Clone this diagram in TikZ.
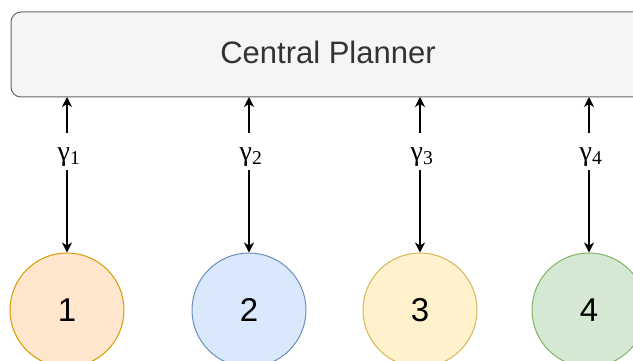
\documentclass[tikz,border=0pt]{standalone}
\usepackage{fontspec}
\setmainfont{Liberation Sans}
\newfontfamily\gfont{Liberation Serif}
\usetikzlibrary{arrows.meta}
\definecolor{boxfill}{HTML}{F5F5F5}
\definecolor{boxline}{HTML}{666666}
\definecolor{boxtext}{HTML}{333333}
\definecolor{f1}{HTML}{FFE6CC}\definecolor{s1}{HTML}{D79B00}
\definecolor{f2}{HTML}{DAE8FC}\definecolor{s2}{HTML}{6C8EBF}
\definecolor{f3}{HTML}{FFF2CC}\definecolor{s3}{HTML}{D6B656}
\definecolor{f4}{HTML}{D5E8D4}\definecolor{s4}{HTML}{82B366}
\tikzset{
  agent/.style={circle, minimum size=114pt, inner sep=0pt, line width=1pt, font=\fontsize{33}{33}\selectfont},
  glabel/.style={inner sep=0pt, font=\gfont\fontsize{28}{28}\selectfont},
  link/.style={line width=1.3pt, -{Stealth[length=10pt,width=10pt,inset=3pt]}},
}
\begin{document}
\begin{tikzpicture}[x=1pt,y=-1pt]
\useasboundingbox (0,0) rectangle (633,361);
\clip (0,0) rectangle (633,361);
\draw[boxline, fill=boxfill, line width=1pt, rounded corners=10pt] (11,12) rectangle (680,97);
\node[text=boxtext, font=\fontsize{31}{31}\selectfont] (planner) at (328,52) {Central Planner};
\coordinate (pb) at (0,97);
\node[agent, fill=f1, draw=s1] (c1) at (67,310) {1};
\node[agent, fill=f2, draw=s2] (c2) at (249,310) {2};
\node[agent, fill=f3, draw=s3] (c3) at (420,310) {3};
\node[agent, fill=f4, draw=s4] (c4) at (589,310) {4};
\node[glabel] (g1) at (69,157) {γ\textsubscript{1}};
\node[glabel] (g2) at (251,157) {γ\textsubscript{2}};
\node[glabel] (g3) at (422,157) {γ\textsubscript{3}};
\node[glabel] (g4) at (591,157) {γ\textsubscript{4}};
\foreach \i in {1,2,3,4}{
  \draw[link] (c\i.north |- 0,133) -- (c\i.north |- pb);
  \draw[link] (c\i.north |- 0,170) -- (c\i.north);
}
\end{tikzpicture}
\end{document}
